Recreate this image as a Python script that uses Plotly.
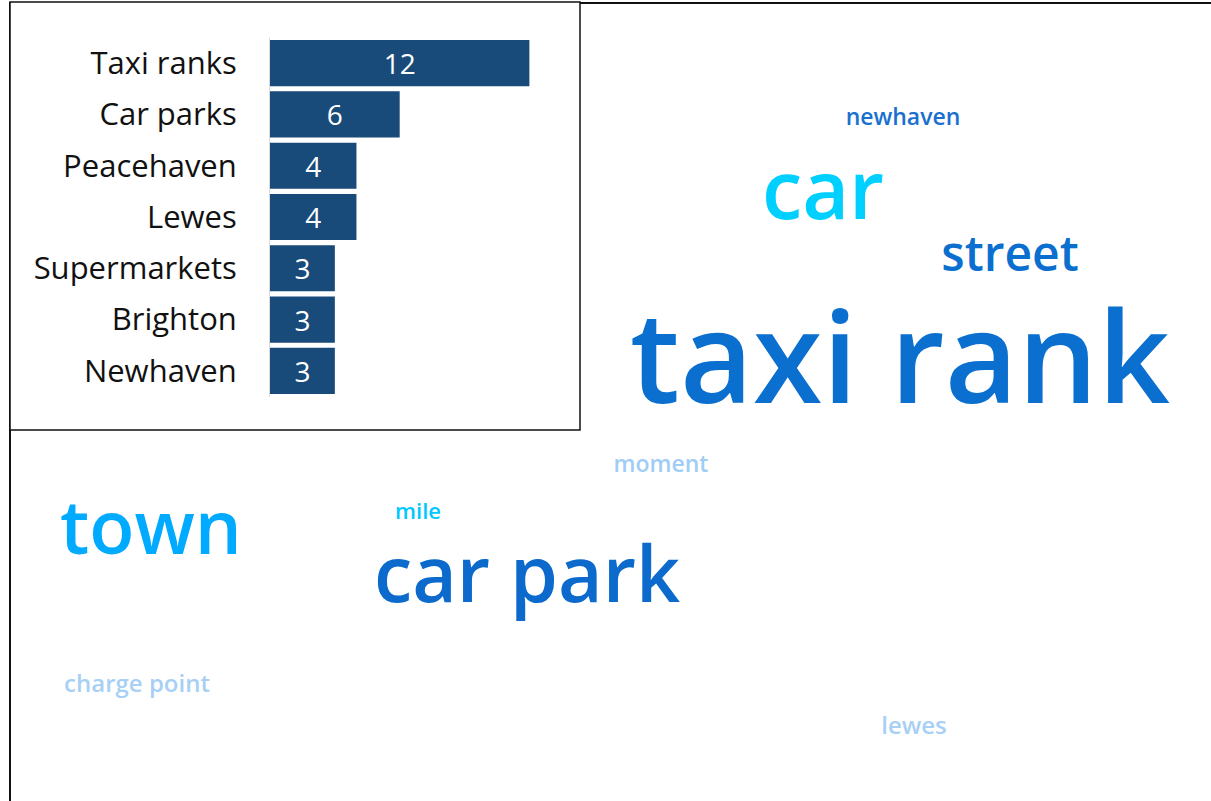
import plotly.graph_objects as go

# bar chart data
places = ["Taxi ranks", "Car parks", "Peacehaven", "Lewes", "Supermarkets", "Brighton", "Newhaven"]
counts = [12, 6, 4, 4, 3, 3, 3]

# word cloud data
words = ["taxi rank", "car park", "car", "town", "street", "newhaven",
         "moment", "mile", "charge point", "lewes"]

# word cloud layout (pixel positions, sizes, colours)
word_x = [900, 527, 823, 151, 1010, 903, 661, 418, 137, 914]
word_y = [371, 583, 199, 535, 259, 119, 466, 513, 686, 728]
word_size = [126, 77, 81, 74, 48, 23, 23, 22, 24, 24]
word_color = ["#0a6fcf", "#0b6acb", "#00d0ff", "#00aaff", "#0a6fcf", "#1a70d0",
              "#a0cdf5", "#00c8ff", "#a8d0f5", "#a8cff5"]

W, H = 1211, 801
font = "Open Sans"

fig = go.Figure()

fig.add_trace(go.Scatter(
    x=word_x, y=word_y, mode="text", text=words,
    textposition="middle center",
    textfont=dict(family=font, size=word_size, color=word_color, weight=600),
    xaxis="x2", yaxis="y2", hoverinfo="skip", showlegend=False,
))

fig.add_trace(go.Bar(
    x=counts, y=places, orientation="h",
    marker=dict(color="#184a7a", line=dict(width=0)),
    text=counts, textposition="inside", insidetextanchor="middle",
    textfont=dict(family=font, size=28, color="white"),
    xaxis="x", yaxis="y", showlegend=False,
))

fig.update_layout(
    width=W, height=H,
    margin=dict(l=0, r=0, t=0, b=0),
    paper_bgcolor="white", plot_bgcolor="rgba(0,0,0,0)",
    bargap=0.1,
    xaxis=dict(domain=[270 / W, 551 / W], range=[0, 13], visible=False),
    yaxis=dict(domain=[1 - 396.5 / H, 1 - 37.5 / H], autorange="reversed",
               showline=True, linecolor="#d9d9d9", linewidth=1,
               showgrid=False, ticks="", ticklabelstandoff=26,
               tickfont=dict(family=font, size=31, color="#111111")),
    xaxis2=dict(domain=[0, 1], range=[0, W], visible=False),
    yaxis2=dict(domain=[0, 1], range=[H, 0], visible=False, anchor="x2"),
    shapes=[
        dict(type="rect", xref="paper", yref="paper",
             x0=10 / W, x1=1.01, y0=-0.01, y1=1 - 3 / H,
             line=dict(color="#111111", width=2), layer="below"),
        dict(type="rect", xref="paper", yref="paper",
             x0=10 / W, x1=580 / W, y0=1 - 430 / H, y1=1 - 2 / H,
             line=dict(color="#111111", width=1.5), fillcolor="white", layer="below"),
    ],
)

# page body has a default 8px margin; remove it so the figure fills the window
fig.write_html("out.html", config={"displayModeBar": False},
               post_script="document.body.style.margin='0';")
